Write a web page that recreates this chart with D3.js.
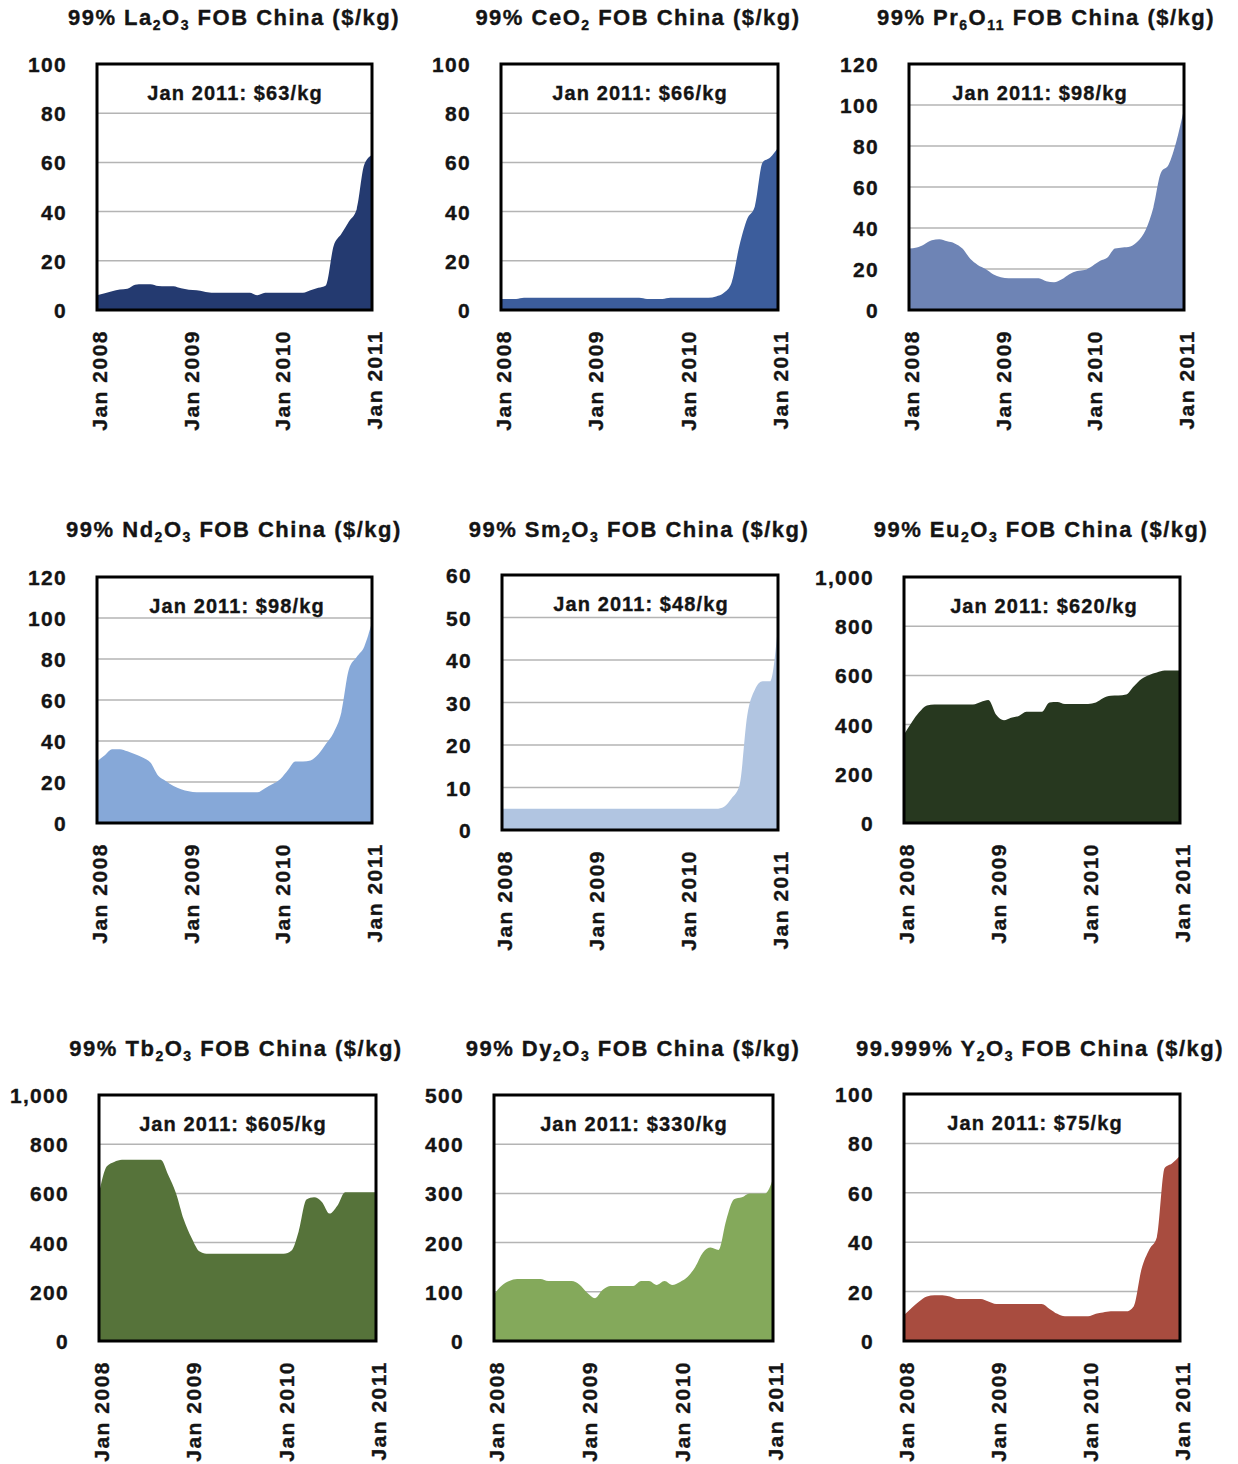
<!DOCTYPE html>
<html>
<head>
<meta charset="utf-8">
<script src="https://cdn.jsdelivr.net/npm/d3@7/dist/d3.min.js"></script>
<style>
  html, body { margin: 0; padding: 0; background: #ffffff; }
  svg { display: block; }
  text { font-family: "Liberation Sans", Arial, Helvetica, sans-serif; font-weight: bold; fill: #141414; stroke: #141414; stroke-width: 0.35px; }
</style>
</head>
<body>
<script>
// Monthly price observations, Jan 2008 – Jan 2011 (37 months)
const months = d3.timeMonths(new Date(2008, 0, 1), new Date(2011, 0, 2));
const yearTicks = [new Date(2008, 0, 1), new Date(2009, 0, 1), new Date(2010, 0, 1), new Date(2011, 0, 1)];

// Prices in US$/kg
const laPrices = [6,6.8,7.6,8.3,8.6,10.3,10.5,10.5,9.8,9.7,9.7,8.8,8.2,8,7.5,7,7,7,7,7,7,6,7,7,7,7,7,7,8,9,10,26,31,36,41,59,63];
const cePrices = [4.5,4.5,4.5,5,5,5,5,5,5,5,5,5,5,5,5,5,5,5,5,4.5,4.5,4.5,5,5,5,5,5,5,5.5,7,11,26,37,42,60,62,66];
const prPrices = [30,30.5,32,34,34.5,33.5,32.5,30,25,22,20,17.5,16,15.5,15.5,15.5,15.5,15.5,14,13.5,15,17.5,19,19.5,21.5,24,25.5,30,30.5,31,33.5,39,50,67,71,82,98];
const ndPrices = [30,33,36,36,35,33.5,32,29.5,23,20.5,18,16.5,15.5,15,15,15,15,15,15,15,15,15,17,19,21.5,26,30,30,30.5,33.5,38.5,44,54,75,81,86,98];
const smPrices = [5,5,5,5,5,5,5,5,5,5,5,5,5,5,5,5,5,5,5,5,5,5,5,5,5,5,5,5,5,5.5,7.5,10.5,27,33,35,35,48];
const euPrices = [360,410,450,478,482,482,482,482,482,482,492,500,440,418,428,435,452,452,452,490,492,484,484,484,484,490,507,517,518,522,555,585,602,612,620,620,620];
const tbPrices = [600,710,728,737,737,737,737,737,737,675,600,495,420,365,355,355,355,355,355,355,355,355,355,355,355,368,445,575,584,565,518,550,605,605,605,605,605];
const dyPrices = [95,113,122,126,126,126,126,122,122,122,122,115,98,87,103,112,112,112,112,122,122,114,122,114,120,131,150,180,190,185,245,288,292,300,300,300,330];
const yPrices  = [10.5,13.5,16,18,18.5,18.5,18,17,17,17,17,16,15,15,15,15,15,15,15,13,11,10,10,10,10,11,11.5,12,12,12,14,29,37,42,70,72,75];

// Y-axis tick values per panel
const ticks100 = [0, 20, 40, 60, 80, 100];
const ticks120 = [0, 20, 40, 60, 80, 100, 120];
const ticks60 = [0, 10, 20, 30, 40, 50, 60];
const ticks1000 = [0, 200, 400, 600, 800, 1000];
const ticks500 = [0, 100, 200, 300, 400, 500];

// Titles, written as [text, isSubscript] runs
const titles = {
  la: [["99% La", 0], ["2", 1], ["O", 0], ["3", 1], [" FOB China ($/kg)", 0]],
  ce: [["99% CeO", 0], ["2", 1], [" FOB China ($/kg)", 0]],
  pr: [["99% Pr", 0], ["6", 1], ["O", 0], ["11", 1], [" FOB China ($/kg)", 0]],
  nd: [["99% Nd", 0], ["2", 1], ["O", 0], ["3", 1], [" FOB China ($/kg)", 0]],
  sm: [["99% Sm", 0], ["2", 1], ["O", 0], ["3", 1], [" FOB China ($/kg)", 0]],
  eu: [["99% Eu", 0], ["2", 1], ["O", 0], ["3", 1], [" FOB China ($/kg)", 0]],
  tb: [["99% Tb", 0], ["2", 1], ["O", 0], ["3", 1], [" FOB China ($/kg)", 0]],
  dy: [["99% Dy", 0], ["2", 1], ["O", 0], ["3", 1], [" FOB China ($/kg)", 0]],
  y:  [["99.999% Y", 0], ["2", 1], ["O", 0], ["3", 1], [" FOB China ($/kg)", 0]]
};

const series = { la: laPrices, ce: cePrices, pr: prPrices, nd: ndPrices, sm: smPrices, eu: euPrices, tb: tbPrices, dy: dyPrices, y: yPrices };
const yTickSets = { la: ticks100, ce: ticks100, pr: ticks120, nd: ticks120, sm: ticks60, eu: ticks1000, tb: ticks1000, dy: ticks500, y: ticks100 };

// Panel geometry and fill colours
const layout = [
  { key: "la", box: [97, 64, 372, 310],    titleX: 234,  titleY: 25,   noteX: 235,  color: "#243a70" },
  { key: "ce", box: [501, 64, 778, 310],   titleX: 638,  titleY: 25,   noteX: 640,  color: "#3c5d9c" },
  { key: "pr", box: [909, 64, 1184, 310],  titleX: 1046, titleY: 25,   noteX: 1040, color: "#6e84b5" },
  { key: "nd", box: [97, 577, 372, 823],   titleX: 234,  titleY: 537,  noteX: 237,  color: "#86a8d8" },
  { key: "sm", box: [502, 575, 778, 830],  titleX: 639,  titleY: 537,  noteX: 641,  color: "#b1c5e1" },
  { key: "eu", box: [904, 577, 1180, 823], titleX: 1041, titleY: 537,  noteX: 1044, color: "#27381f" },
  { key: "tb", box: [99, 1095, 376, 1341], titleX: 236,  titleY: 1056, noteX: 233,  color: "#56733a" },
  { key: "dy", box: [494, 1095, 773, 1341],titleX: 633,  titleY: 1056, noteX: 634,  color: "#84a95b" },
  { key: "y",  box: [904, 1094, 1180, 1341],titleX: 1040, titleY: 1056, noteX: 1035, color: "#a84c3f" }
];

const fmtTick = d3.format(",");
const fmtYear = d3.timeFormat("Jan %Y");

const svg = d3.select("body").append("svg")
  .attr("width", 1238).attr("height", 1464)
  .style("background", "#ffffff");

layout.forEach(p => {
  const [x0, y0, x1, y1] = p.box;
  const values = series[p.key];
  const yTicks = yTickSets[p.key];
  const yMax = yTicks[yTicks.length - 1];
  const data = months.map((m, i) => ({ date: m, v: values[i] }));

  const x = d3.scaleTime().domain([months[0], months[months.length - 1]]).range([x0, x1]);
  const y = d3.scaleLinear().domain([0, yMax]).range([y1, y0]);

  const g = svg.append("g").attr("class", "panel panel-" + p.key);

  // horizontal gridlines
  g.append("g").selectAll("line")
    .data(yTicks.filter(t => t > 0 && t < yMax))
    .join("line")
    .attr("x1", x0).attr("x2", x1)
    .attr("y1", d => y(d)).attr("y2", d => y(d))
    .attr("stroke", "#b4b4b4").attr("stroke-width", 1.5);

  // price area
  const area = d3.area()
    .x(d => x(d.date))
    .y0(y(0))
    .y1(d => y(d.v))
    .curve(d3.curveMonotoneX);
  g.append("path").datum(data)
    .attr("d", area)
    .attr("fill", p.color);

  // frame
  g.append("rect")
    .attr("x", x0).attr("y", y0)
    .attr("width", x1 - x0).attr("height", y1 - y0)
    .attr("fill", "none").attr("stroke", "#000").attr("stroke-width", 3);

  // y axis
  const ya = g.append("g").attr("transform", `translate(${x0},0)`)
    .call(d3.axisLeft(y).tickValues(yTicks).tickSize(0).tickPadding(30).tickFormat(fmtTick));
  ya.select(".domain").remove();
  ya.selectAll("text")
    .attr("dy", "0.36em")
    .style("font-size", "21px").style("font-family", "'Liberation Sans', Arial, sans-serif")
    .style("font-weight", "bold").style("letter-spacing", "1.3px").attr("fill", "#141414");

  // x axis with vertical labels
  const xa = g.append("g").attr("transform", `translate(0,${y1})`)
    .call(d3.axisBottom(x).tickValues(yearTicks).tickSize(0).tickFormat(fmtYear));
  xa.select(".domain").remove();
  xa.selectAll("text")
    .attr("transform", "rotate(-90)")
    .attr("x", -20).attr("y", 0).attr("dy", "0.45em")
    .attr("text-anchor", "end")
    .style("font-size", "21px").style("font-family", "'Liberation Sans', Arial, sans-serif")
    .style("font-weight", "bold").style("letter-spacing", "1.5px").attr("fill", "#141414");

  // title with subscripts
  const t = g.append("text")
    .attr("x", p.titleX).attr("y", p.titleY)
    .attr("text-anchor", "middle")
    .style("font-size", "22px").style("letter-spacing", "1.5px");
  titles[p.key].forEach(([s, sub]) => {
    const ts = t.append("tspan").text(s);
    if (sub) ts.style("font-size", "14px").attr("dy", 5);
    else if (t.selectAll("tspan").size() > 1) ts.attr("dy", -5);
  });

  // latest value note
  g.append("text")
    .attr("x", p.noteX).attr("y", y0 + 36)
    .attr("text-anchor", "middle")
    .style("font-size", "20px").style("letter-spacing", "1.1px")
    .text(`Jan 2011: $${fmtTick(values[values.length - 1])}/kg`);
});
</script>
</body>
</html>
